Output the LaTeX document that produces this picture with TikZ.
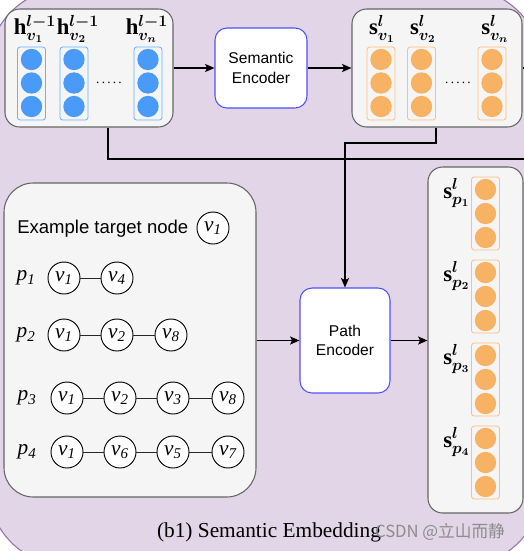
\documentclass[tikz,border=0pt]{standalone}
\usepackage{fontspec}
\usepackage{bm}
\setmainfont{Liberation Serif}
\newfontfamily\arial{Liberation Sans}
\newfontfamily\cjkfont{Noto Sans CJK SC}
\usetikzlibrary{arrows.meta}
\definecolor{purplebg}{HTML}{E1D5E7}
\definecolor{purpleline}{HTML}{9673A6}
\definecolor{boxfill}{HTML}{F5F5F5}
\definecolor{boxline}{HTML}{666666}
\definecolor{encline}{HTML}{5050FF}
\definecolor{bluedot}{HTML}{4A9AF8}
\definecolor{bluecol}{HTML}{66B2FF}
\definecolor{orangedot}{HTML}{F7B263}
\definecolor{orangecol}{HTML}{FFBE80}
\begin{document}
\begin{tikzpicture}[x=0.75pt,y=-0.75pt,
  arr/.style={line width=1.1pt,-{Stealth[length=7pt,width=6pt,inset=1.5pt]}},
  ln/.style={line width=1.1pt},
  gbox/.style={draw=boxline,fill=boxfill,line width=0.8pt,inner sep=0},
  enc/.style={draw=encline,fill=white,line width=0.8pt,rounded corners=9pt,align=center,
    font=\arial\fontsize{11.7}{14.5}\selectfont},
  colbox/.style={line width=0.6pt,rounded corners=2pt,minimum width=21pt,minimum height=54.75pt,inner sep=0},
  bcol/.style={colbox,draw=bluecol},
  ocol/.style={colbox,draw=orangecol},
  dot/.style={circle,minimum size=16pt,inner sep=0},
  bdot/.style={dot,fill=bluedot},
  odot/.style={dot,fill=orangedot},
  mlab/.style={inner sep=0,font=\fontsize{17}{19}\selectfont},
  vn/.style={circle,draw,fill=white,line width=0.7pt,minimum size=24pt,inner sep=0,
    font=\fontsize{16}{18}\selectfont\itshape},
  plab/.style={inner sep=0,font=\fontsize{16}{18}\selectfont\itshape},
  edge/.style={line width=0.7pt,draw=black!85},
  dotsl/.style={inner sep=0,font=\fontsize{10}{12}\selectfont}
  ]
\useasboundingbox (0,0) rectangle (524,551);
\fill[white] (0,0) rectangle (524,551);
\draw[fill=purplebg,draw=purpleline,line width=0.8pt,rounded corners=60pt] (-12,-12) rectangle (542,566);

% ---- top-left box: h vectors
\node[gbox,rounded corners=11pt,minimum width=126pt,minimum height=88.5pt] (hbox) at (89,68) {};
\foreach \n/\x in {1/31.5,2/74,n/148} {
  \node[bcol] (hc\n) at (\x,83.5) {};
  \foreach \k/\y in {a/59.5,b/83,c/106.5} \node[bdot] (hc\n\k) at (\x,\y) {};
}
\node[mlab] (hl1) at (35,29) {$\mathbf{h}^{\bm{l-1}}_{\bm{v_1}}$};
\node[mlab] (hl2) at (78,29) {$\mathbf{h}^{\bm{l-1}}_{\bm{v_2}}$};
\node[mlab] (hln) at (147,29) {$\mathbf{h}^{\bm{l-1}}_{\bm{v_n}}$};
\node[dotsl] (hdots) at (109,83) {.\,.\,.\,.\,.};

% ---- semantic encoder
\node[enc,minimum width=69pt,minimum height=60pt] (se) at (261,68) {Semantic\\Encoder};

% ---- top-right box: s vectors
\node[gbox,rounded corners=11pt,minimum width=127.5pt,minimum height=88.5pt] (sbox) at (437,68) {};
\foreach \n/\x in {1/381,2/421.5,n/492} {
  \node[ocol] (sc\n) at (\x,83.5) {};
  \foreach \k/\y in {a/59.5,b/83,c/106.5} \node[odot] (sc\n\k) at (\x,\y) {};
}
\node[mlab] (sl1) at (382,29) {$\mathbf{s}^{\bm{l}}_{\bm{v_1}}$};
\node[mlab] (sl2) at (423,29) {$\mathbf{s}^{\bm{l}}_{\bm{v_2}}$};
\node[mlab] (sln) at (495,29) {$\mathbf{s}^{\bm{l}}_{\bm{v_n}}$};
\node[dotsl] (sdots) at (458,83) {.\,.\,.\,.\,.};

% ---- path encoder
\node[enc,minimum width=67.5pt,minimum height=78.75pt] (pe) at (345,340.5) {Path\\Encoder};

% ---- left box: example paths
\node[gbox,rounded corners=22pt,minimum width=189pt,minimum height=235.5pt] (lbox) at (130,340) {};
\node[inner sep=0,anchor=west,font=\arial\fontsize{13.9}{16}\selectfont] (ex) at (17,229) {Example target node};
\node[vn] (t1) at (213,228) {v\textsubscript{1}};

\node[plab] (p1) at (26,278) {p\textsubscript{1}};
\node[vn] (a1) at (64,278) {v\textsubscript{1}};
\node[vn] (a2) at (117,278) {v\textsubscript{4}};
\draw[edge] (a1) -- (a2);

\node[plab] (p2) at (26,335) {p\textsubscript{2}};
\node[vn] (b1) at (64,335) {v\textsubscript{1}};
\node[vn] (b2) at (117,335) {v\textsubscript{2}};
\node[vn] (b3) at (171,335) {v\textsubscript{8}};
\draw[edge] (b1) -- (b2) -- (b3);

\node[plab] (p3) at (27,398) {p\textsubscript{3}};
\node[vn] (c1) at (67,398) {v\textsubscript{1}};
\node[vn] (c2) at (120,398) {v\textsubscript{2}};
\node[vn] (c3) at (173,398) {v\textsubscript{3}};
\node[vn] (c4) at (228,398) {v\textsubscript{8}};
\draw[edge] (c1) -- (c2) -- (c3) -- (c4);

\node[plab] (p4) at (27,452) {p\textsubscript{4}};
\node[vn] (d1) at (67,452) {v\textsubscript{1}};
\node[vn] (d2) at (120,452) {v\textsubscript{6}};
\node[vn] (d3) at (173,452) {v\textsubscript{5}};
\node[vn] (d4) at (228,452) {v\textsubscript{7}};
\draw[edge] (d1) -- (d2) -- (d3) -- (d4);

% ---- right box: path embeddings
\node[gbox,rounded corners=11pt,minimum width=71.25pt,minimum height=259.5pt] (rbox) at (475.5,340) {};
\foreach \n/\t in {1/177,2/260,3/343,4/426} {
  \node[ocol] (pc\n) at (485.5,\t+36.5) {};
  \foreach \k/\d in {a/12.5,b/36.5,c/60.5} \node[odot] (pc\n\k) at (485.5,\t+\d) {};
  \node[mlab] (pl\n) at (456.5,\t+16) {$\mathbf{s}^{\bm{l}}_{\bm{p_{\n}}}$};
}

% ---- connectors
\coordinate (rtop) at (524,68);
\coordinate (hdown) at (108,159);
\coordinate (redge) at (524,159);
\coordinate (sdown) at (436,143);
\coordinate (scorner) at (345,143);
\draw[arr] (hbox.east |- se.west) -- (se.west);
\draw[arr] (se.east) -- (sbox.west |- se.east);
\draw[ln] (sbox.east |- rtop) -- (rtop);
\draw[ln] (hbox.south -| hdown) -- (hdown) -- (redge);
\draw[arr] (sbox.south -| sdown) -- (sdown) -- (scorner) -- (pe.north);
\draw[arr] (lbox.east |- pe.west) -- (pe.west);
\draw[arr] (pe.east) -- (rbox.west |- pe.east);

% ---- caption and mark
\node[inner sep=0,font=\fontsize{16}{19}\selectfont] (cap) at (269,532) {(b1) Semantic Embedding};
\node[inner sep=0,font=\cjkfont\fontsize{12.5}{15}\selectfont,text=black!45] (wm) at (440,532) {CSDN @立山而静};
\end{tikzpicture}
\end{document}
